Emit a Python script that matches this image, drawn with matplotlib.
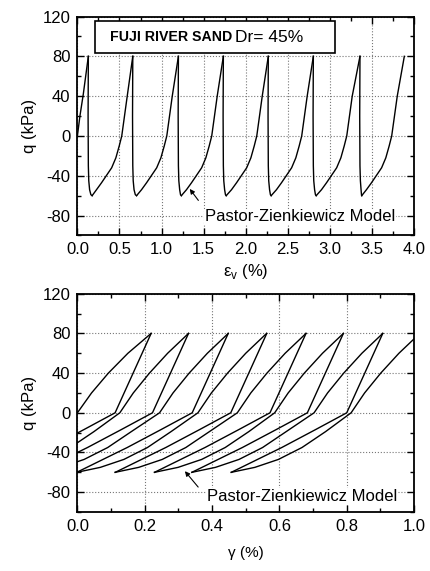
import matplotlib.pyplot as plt
from matplotlib.patches import Rectangle
from matplotlib.ticker import MultipleLocator

plt.rcParams['font.family'] = ['Liberation Sans', 'DejaVu Sans']
plt.rcParams['mathtext.fontset'] = 'custom'
plt.rcParams['mathtext.rm'] = 'Liberation Sans'
plt.rcParams['axes.unicode_minus'] = False

# ---- q - volumetric strain (upper panel) ----
# first loading from the origin
eps_first = [0.0, 0.03, 0.07, 0.13]
q_first = [0, 20, 42, 80]

# q levels along each unloading / reloading branch
q_unload_top = [80, 20, -30, -45, -54, -59, -60]
q_load_top = [-54, -47, -39.5, -32, -22, -10, 0, 40, 80]

eps_unload_top = [
    [0.130, 0.127, 0.130, 0.135, 0.145, 0.160, 0.175],
    [0.658, 0.655, 0.658, 0.663, 0.673, 0.688, 0.703],
    [1.200, 1.197, 1.200, 1.205, 1.215, 1.225, 1.235],
    [1.734, 1.731, 1.734, 1.739, 1.749, 1.759, 1.768],
    [2.268, 2.265, 2.268, 2.273, 2.283, 2.293, 2.302],
    [2.803, 2.800, 2.803, 2.808, 2.818, 2.828, 2.837],
    [3.357, 3.354, 3.357, 3.362, 3.370, 3.375, 3.378],
]
eps_load_top = [
    [0.227, 0.287, 0.347, 0.407, 0.457, 0.497, 0.527, 0.592, 0.658],
    [0.762, 0.822, 0.882, 0.942, 0.992, 1.032, 1.062, 1.127, 1.200],
    [1.296, 1.356, 1.416, 1.476, 1.526, 1.566, 1.596, 1.661, 1.734],
    [1.831, 1.891, 1.951, 2.011, 2.061, 2.101, 2.131, 2.196, 2.268],
    [2.365, 2.425, 2.485, 2.545, 2.595, 2.635, 2.665, 2.730, 2.803],
    [2.900, 2.960, 3.020, 3.080, 3.130, 3.170, 3.200, 3.265, 3.357],
    [3.434, 3.494, 3.554, 3.614, 3.664, 3.704, 3.734, 3.800, 3.884],
]

# ---- q - shear strain (lower panel) ----
gam_first = [0.0, 0.042, 0.092, 0.150, 0.219]
q_first_b = [0, 20, 40, 60, 80]

q_unload_bot = [80, 0, -17, -35, -50, -60]
q_load_bot = [-60, -55, -47, -35, -19, 0, 20, 40, 60, 80]

gam_unload = [
    [0.219, 0.112, 0.019, -0.081, -0.171, -0.231],
    [0.330, 0.223, 0.130, 0.030, -0.060, -0.120],
    [0.448, 0.341, 0.248, 0.148, 0.058, -0.002],
    [0.5625, 0.4555, 0.3625, 0.2625, 0.1725, 0.1125],
    [0.679, 0.572, 0.479, 0.379, 0.289, 0.229],
    [0.790, 0.683, 0.590, 0.490, 0.400, 0.340],
    [0.907, 0.800, 0.707, 0.607, 0.517, 0.457],
]
gam_load = [
    [-0.231, -0.161, -0.091, -0.021, 0.049, 0.126, 0.166, 0.214, 0.268, 0.330],
    [-0.120, -0.050, 0.020, 0.090, 0.160, 0.244, 0.284, 0.332, 0.386, 0.448],
    [-0.002, 0.068, 0.138, 0.208, 0.278, 0.358, 0.398, 0.446, 0.500, 0.562],
    [0.112, 0.182, 0.252, 0.322, 0.392, 0.475, 0.515, 0.563, 0.617, 0.679],
    [0.229, 0.299, 0.369, 0.439, 0.509, 0.586, 0.626, 0.674, 0.728, 0.790],
    [0.340, 0.410, 0.480, 0.550, 0.620, 0.703, 0.743, 0.791, 0.845, 0.907],
    [0.457, 0.527, 0.597, 0.667, 0.737, 0.813, 0.853, 0.901, 0.955, 1.017],
]

LW = 1.0
FS = 12

fig = plt.figure(figsize=(4.30, 5.71), dpi=100)
ax1 = fig.add_axes([0.180, 0.5876, 0.783, 0.3835])
ax2 = fig.add_axes([0.180, 0.1033, 0.783, 0.3823])


def style(ax, xmaj, xmin):
    ax.set_ylim(-100, 120)
    ax.yaxis.set_major_locator(MultipleLocator(40))
    ax.yaxis.set_minor_locator(MultipleLocator(20))
    ax.xaxis.set_major_locator(MultipleLocator(xmaj))
    ax.xaxis.set_minor_locator(MultipleLocator(xmin))
    ax.tick_params(which='both', direction='in', top=True, right=True,
                   labelsize=FS, width=1.0)
    ax.tick_params(which='major', length=5, pad=5)
    ax.tick_params(which='minor', length=3)
    ax.grid(True, which='major', linestyle=':', color='#777777', linewidth=0.8)
    for s in ax.spines.values():
        s.set_linewidth(1.3)
    ax.set_ylabel('q (kPa)', fontsize=FS, labelpad=4)


# upper panel
ax1.plot(eps_first, q_first, color='black', lw=LW)
for eu, el in zip(eps_unload_top, eps_load_top):
    ax1.plot(eu, q_unload_top, color='black', lw=LW)
    ax1.plot([eu[-1]] + el, [q_unload_top[-1]] + q_load_top, color='black', lw=LW)
ax1.set_xlim(0, 4.0)
style(ax1, 0.5, 0.25)
ax1.xaxis.set_major_formatter(plt.FormatStrFormatter('%.1f'))
ax1.set_xlabel('ε$_\\mathregular{v}$ (%)', fontsize=FS, labelpad=3)

ax1.add_patch(Rectangle((0.053, 0.833), 0.712, 0.146, transform=ax1.transAxes,
                        facecolor='white', edgecolor='black', lw=1.2, zorder=5))
ax1.text(0.097, 0.906, 'FUJI RIVER SAND', transform=ax1.transAxes, fontsize=10.2,
         fontweight='bold', va='center', ha='left', zorder=6)
ax1.text(0.468, 0.906, 'Dr= 45%', transform=ax1.transAxes, fontsize=12.5,
         va='center', ha='left', zorder=6)

ax1.annotate('', xy=(1.315, -51), xytext=(1.457, -67),
             arrowprops=dict(arrowstyle='-|>', color='black', lw=0.8,
                             mutation_scale=7))
ax1.text(0.379, 0.0845, 'Pastor-Zienkiewicz Model', transform=ax1.transAxes,
         fontsize=FS, va='center', ha='left', zorder=6,
         bbox=dict(facecolor='white', edgecolor='none', pad=0.5))

# lower panel
ax2.plot(gam_first, q_first_b, color='black', lw=LW)
for gu, gl in zip(gam_unload, gam_load):
    ax2.plot(gu, q_unload_bot, color='black', lw=LW)
    ax2.plot(gl, q_load_bot, color='black', lw=LW)
ax2.set_xlim(0, 1.0)
style(ax2, 0.2, 0.1)
ax2.xaxis.set_major_formatter(plt.FormatStrFormatter('%.1f'))
ax2.set_xlabel('γ (%)', fontsize=11, labelpad=9)

ax2.annotate('', xy=(0.314, -56.7), xytext=(0.364, -77),
             arrowprops=dict(arrowstyle='-|>', color='black', lw=0.8,
                             mutation_scale=7))
ax2.text(0.385, 0.073, 'Pastor-Zienkiewicz Model', transform=ax2.transAxes,
         fontsize=FS, va='center', ha='left', zorder=6,
         bbox=dict(facecolor='white', edgecolor='none', pad=0.5))

fig.savefig('out.png', dpi=100)
